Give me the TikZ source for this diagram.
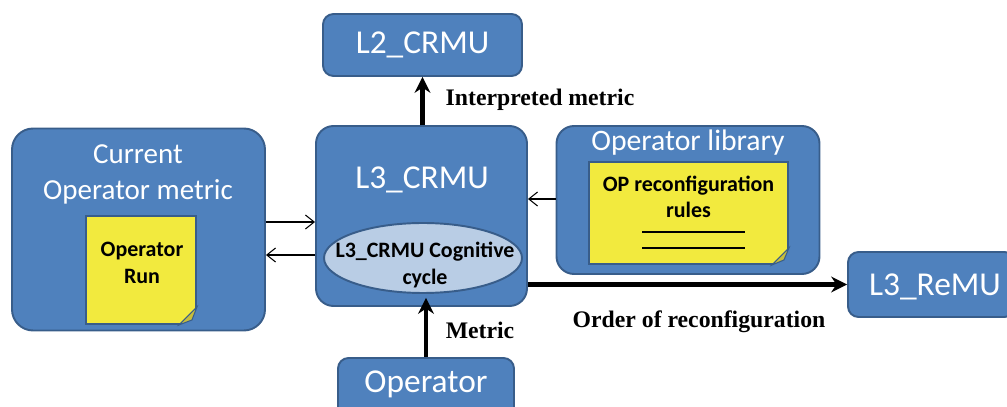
\documentclass[tikz,border=0pt]{standalone}
\usepackage{fontspec}
\setmainfont{Liberation Serif}
\newfontfamily\calib{Carlito}
\usetikzlibrary{shapes.geometric, arrows.meta, positioning}
\definecolor{boxblue}{RGB}{79,129,189}
\definecolor{boxedge}{RGB}{56,93,138}
\definecolor{noteyel}{RGB}{242,234,62}
\definecolor{foldyel}{RGB}{200,190,60}
\definecolor{ellblue}{RGB}{185,205,229}

\begin{document}
\begin{tikzpicture}[
  blk/.style={rectangle, rounded corners=8pt, draw=boxedge, line width=1.1pt,
              fill=boxblue, text=white, font=\calib\fontsize{19}{21}\selectfont,
              align=center},
  note/.style={rectangle, draw=boxedge, line width=1.1pt, fill=noteyel},
  notetxt/.style={font=\calib\bfseries\fontsize{12.5}{15}\selectfont, align=center},
  big/.style={-{Stealth[length=9pt,width=9pt]}, line width=2.8pt},
  thin/.style={-{Straight Barb[length=5pt,width=8pt]}, line width=0.6pt},
  lbl/.style={font=\bfseries\fontsize{13.5}{15}\selectfont}
]
  \clip (0,0) rectangle (20.14,8.14);
  % top and bottom boxes
  \node[blk, rounded corners=6pt, minimum width=3.98cm, minimum height=1.24cm] (l2) at (8.45,7.24) {L2\_CRMU};
  \node[blk, rounded corners=6pt, minimum width=3.52cm, minimum height=1.24cm] (op) at (8.52,0.36) {};
  \node[text=white, font=\calib\fontsize{19}{21}\selectfont] (opt) at (8.52,0.45) {Operator};
  \node[blk, rounded corners=6pt, minimum width=3.34cm, minimum height=1.3cm] (remu) at (18.63,2.45) {};
  \node[text=white, font=\calib\fontsize{19}{21}\selectfont] (remut) at (18.7,2.4) {L3\_ReMU};

  % left box
  \node[blk, rounded corners=12pt, minimum width=5.06cm, minimum height=4.04cm] (cur) at (2.77,3.55) {};
  \node[text=white, align=center, font=\calib\fontsize{16.5}{20}\selectfont] (curt) at (2.76,4.65) {Current\\Operator metric};
  \node[note, minimum width=2.2cm, minimum height=2.16cm] (run) at (2.82,2.74) {};
  \node[notetxt] (runt) at (2.84,2.88) {Operator\\Run};
  \fill[boxblue] (run.south east) -- ++(-0.36,0) -- ++(0.36,0.36) -- cycle;
  \filldraw[fill=foldyel, draw=boxedge, line width=0.6pt] ([xshift=-0.36cm]run.south east) -- ++(0.36,0.36) -- ++(-0.1,-0.26) -- cycle;

  % centre box
  \node[blk, rounded corners=10pt, minimum width=4.22cm, minimum height=3.6cm] (l3) at (8.43,3.82) {};
  \node[text=white, font=\calib\fontsize{19}{22}\selectfont] (l3t) at (8.44,4.54) {L3\_CRMU};
  \node[ellipse, draw=boxedge, line width=1.1pt, fill=ellblue, minimum width=3.96cm, minimum height=1.4cm,
        inner sep=0pt] (cyc) at (8.46,2.98) {};
  \node[notetxt] (cyct) at (8.5,2.84) {L3\_CRMU Cognitive\\cycle};

  % right box
  \node[blk, rounded corners=10pt, minimum width=5.26cm, minimum height=2.96cm] (lib) at (13.76,4.14) {};
  \node[text=white, font=\calib\fontsize{16.9}{19}\selectfont] (libt) at (13.76,5.28) {Operator library};
  \node[note, minimum width=3.98cm, minimum height=2.04cm] (rules) at (13.77,3.88) {};
  \node[notetxt] (rulest) at (13.77,4.2) {OP reconfiguration\\rules};
  \draw[line width=1.6pt] (12.84,3.5) -- (14.9,3.5);
  \draw[line width=0.8pt] (12.84,3.18) -- (14.9,3.18);
  \fill[boxblue] (rules.south east) -- ++(-0.34,0) -- ++(0.34,0.34) -- cycle;
  \filldraw[fill=foldyel, draw=boxedge, line width=0.6pt] ([xshift=-0.34cm]rules.south east) -- ++(0.34,0.34) -- ++(-0.1,-0.24) -- cycle;

  % connectors
  \draw[big] (l3.north -| l2.south) -- (l2.south);
  \node[lbl] (lint) at (10.8,6.14) {Interpreted metric};
  \draw[big] (op.north) -- (op.north |- l3.south) -- ++(0,0.18);
  \node[lbl] (lmet) at (9.6,1.54) {Metric};
  \draw[big] (l3.east |- remu.west) -- (remu.west);
  \node[lbl] (lord) at (13.98,1.7) {Order of reconfiguration};
  \draw[thin] (cur.east |- 0,3.7) -- (l3.west |- 0,3.7);
  \draw[thin] (l3.west |- 0,3.04) -- (cur.east |- 0,3.04);
  \draw[thin] (lib.west |- 0,4.16) -- (l3.east |- 0,4.16);
\end{tikzpicture}
\end{document}
